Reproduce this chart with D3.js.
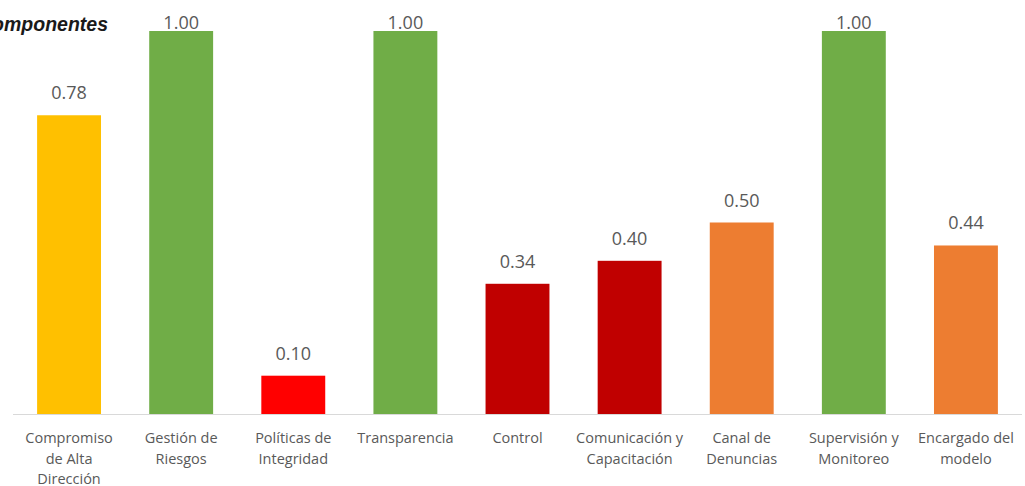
<!DOCTYPE html>
<html><head><meta charset="utf-8">
<script src="https://cdn.jsdelivr.net/npm/d3@7"></script>
<style>body{margin:0;background:#fff;}svg{display:block;}</style>
</head><body>
<svg id="chart" width="1025" height="486"></svg>
<script>
const categories = [
  ["Compromiso","de Alta","Dirección"],
  ["Gestión de","Riesgos"],
  ["Políticas de","Integridad"],
  ["Transparencia"],
  ["Control"],
  ["Comunicación y","Capacitación"],
  ["Canal de","Denuncias"],
  ["Supervisión y","Monitoreo"],
  ["Encargado del","modelo"]
];
const values = [0.78, 1.00, 0.10, 1.00, 0.34, 0.40, 0.50, 1.00, 0.44];
const colors = ["#FFC000","#70AD47","#FF0000","#70AD47","#C00000","#C00000","#ED7D31","#70AD47","#ED7D31"];
const titleText = "Componentes";

const svg = d3.select("#chart");
const baseY = 414, topY = 31, x0 = 13, x1 = 1022;
const ids = categories.map((c,i)=>i);
const x = d3.scaleBand().domain(ids).range([x0, x1]).paddingInner(0.43).paddingOuter(0.215);
const y = d3.scaleLinear().domain([0,1]).range([baseY, topY]);

svg.append("text").attr("x",108).attr("y",31).attr("text-anchor","end")
  .attr("font-family","Liberation Sans, Arial, sans-serif").attr("font-weight","bold")
  .attr("font-style","italic").attr("font-size",19.5).attr("fill","#1a1a1a").text(titleText);

svg.selectAll("rect.bar").data(values).join("rect").attr("class","bar")
  .attr("x",(d,i)=>x(i)).attr("width",x.bandwidth())
  .attr("y",d=>y(d)).attr("height",d=>baseY-y(d)).attr("fill",(d,i)=>colors[i]);

svg.append("line").attr("x1",x0).attr("x2",x1).attr("y1",baseY+0.5).attr("y2",baseY+0.5)
  .attr("stroke","#d9d9d9").attr("stroke-width",1);

svg.selectAll("text.val").data(values).join("text").attr("class","val")
  .attr("x",(d,i)=>x(i)+x.bandwidth()/2).attr("y",d=>Math.max(y(d)-16, 29))
  .attr("text-anchor","middle").attr("font-family","Open Sans, sans-serif")
  .attr("font-size",18).attr("fill","#595959").text(d=>d.toFixed(2));

const lab = svg.selectAll("text.cat").data(categories).join("text").attr("class","cat")
  .attr("text-anchor","middle").attr("font-family","Open Sans, sans-serif")
  .attr("font-size",14.5).attr("fill","#595959");
lab.each(function(lines,i){
  const t = d3.select(this);
  lines.forEach((l,j)=>{
    t.append("tspan").attr("x",x(i)+x.bandwidth()/2).attr("y",443+j*20.5).text(l);
  });
});
</script>
</body></html>
